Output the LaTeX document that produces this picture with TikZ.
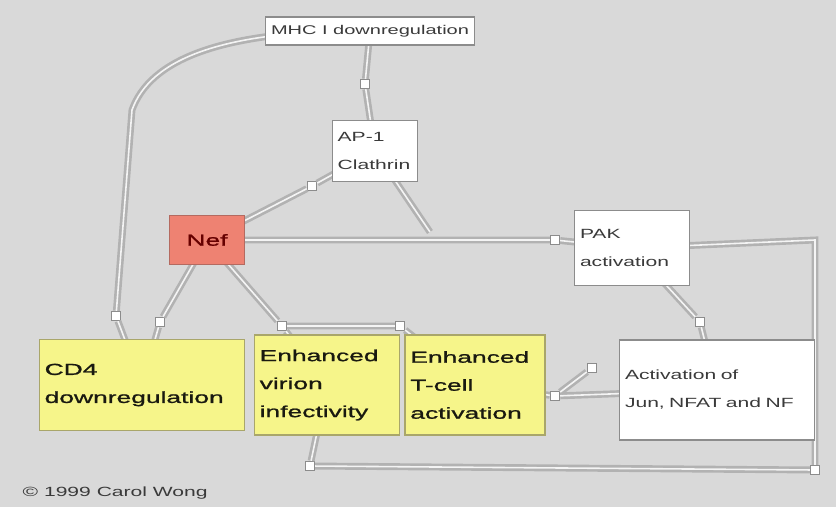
\documentclass[tikz,border=0pt]{standalone}
\usepackage{fontspec}
\setmainfont{Liberation Sans}
\newfontfamily\widefont[FakeStretch=1.58]{Liberation Sans}
\newfontfamily\heavyfont[FakeStretch=1.65,FakeBold=1.2]{Liberation Sans}
\usetikzlibrary{positioning,calc}
\definecolor{bg}{HTML}{D9D9D9}
\definecolor{edge}{HTML}{8C8C8C}
\definecolor{wire}{HTML}{B2B2B2}
\definecolor{lemon}{HTML}{F6F58A}
\definecolor{olive}{HTML}{A9A66A}
\definecolor{salmon}{HTML}{EE8272}
\definecolor{brick}{HTML}{B46A60}
\definecolor{ink}{HTML}{3A3A3A}
\tikzset{
  box/.style={draw=edge,fill=white,text=ink,line width=1pt,align=left,inner sep=3pt,font=\widefont\fontsize{10}{21}\selectfont},
  yelbox/.style={box,draw=olive,fill=lemon,text=black!85!olive,font=\heavyfont\fontsize{12}{21}\selectfont},
  redbox/.style={box,draw=brick,fill=salmon,text=black!60!red,font=\heavyfont\fontsize{12}{21}\selectfont},
  link/.style={draw=wire,line width=2pt,double=bg!30!white,double distance=1.2pt},
  mk/.style={draw=edge,fill=white,minimum size=7pt,inner sep=0pt,line width=.8pt}
}
\begin{document}
\begin{tikzpicture}[x=0.75pt,y=-0.75pt]
\fill[bg] (0,0) rectangle (836,507);
% junction markers
\node[mk] (k1) at (555,240){};\node[mk] (k2) at (312,186){};\node[mk] (k3) at (365,84){};\node[mk] (k4) at (700,322){};
\node[mk] (k5) at (592,368){};\node[mk] (k6) at (555,396){};\node[mk] (k7) at (116,316){};\node[mk] (k8) at (160,322){};
\node[mk] (k9) at (282,326){};\node[mk] (k10) at (400,326){};\node[mk] (k11) at (310,466){};\node[mk] (k12) at (815,470){};
\coordinate (c1) at (815,240);\coordinate (c2) at (132,110);\coordinate (c3) at (430,232);
% connectors first, boxes on top
\draw[link] (370,31) .. controls (220,30) and (150,60) .. (c2) -- (k7);
\draw[link] (370,31) -- (k3) -- (375,151);
\draw[link] (207,240) -- (k1) -- (632,248);\draw[link] (207,240) -- (k2) -- (375,151);\draw[link] (375,151) -- (c3);
\draw[link] (632,248) -- (c1) -- (k12) -- (k11) -- (327,385);
\draw[link] (632,248) -- (k4) -- (717,390);\draw[link] (717,390) -- (k6) -- (475,385);\draw[link] (k5) -- (k6);
\draw[link] (207,240) -- (k8) -- (142,385);\draw[link] (207,240) -- (k9) -- (k10) -- (475,385);\draw[link] (k9) -- (327,385);\draw[link] (k7) -- (142,385);
% boxes
\node[box,minimum width=157pt,minimum height=21pt,align=center,font=\widefont\fontsize{9.5}{12}\selectfont] (mhc) at (370,31){MHC I downregulation};
\node[box,minimum width=64pt,minimum height=46pt,text width=56pt] (ap) at (375,151){AP-1\\Clathrin};
\node[redbox,minimum width=56pt,minimum height=37pt,align=center] (nef) at (207,240){Nef};
\node[box,minimum width=86pt,minimum height=56pt,text width=78pt] (pak) at (632,248){PAK\\activation};
\node[yelbox,minimum width=154pt,minimum height=68pt,text width=146pt] (cd4) at (142,385){CD4\\downregulation};
\node[yelbox,minimum width=109pt,minimum height=75pt,text width=101pt] (vir) at (327,385){Enhanced\\virion\\infectivity};
\node[yelbox,minimum width=105pt,minimum height=75pt,text width=97pt] (tcell) at (475,385){Enhanced\\T-cell\\activation};
\node[box,minimum width=146pt,minimum height=75pt,text width=138pt] (act) at (717,390){Activation of\\Jun, NFAT and NF};
\node[text=ink,anchor=west,font=\widefont\fontsize{10}{12}\selectfont] (cr) at (18,493){© 1999 Carol Wong};
\end{tikzpicture}
\end{document}
